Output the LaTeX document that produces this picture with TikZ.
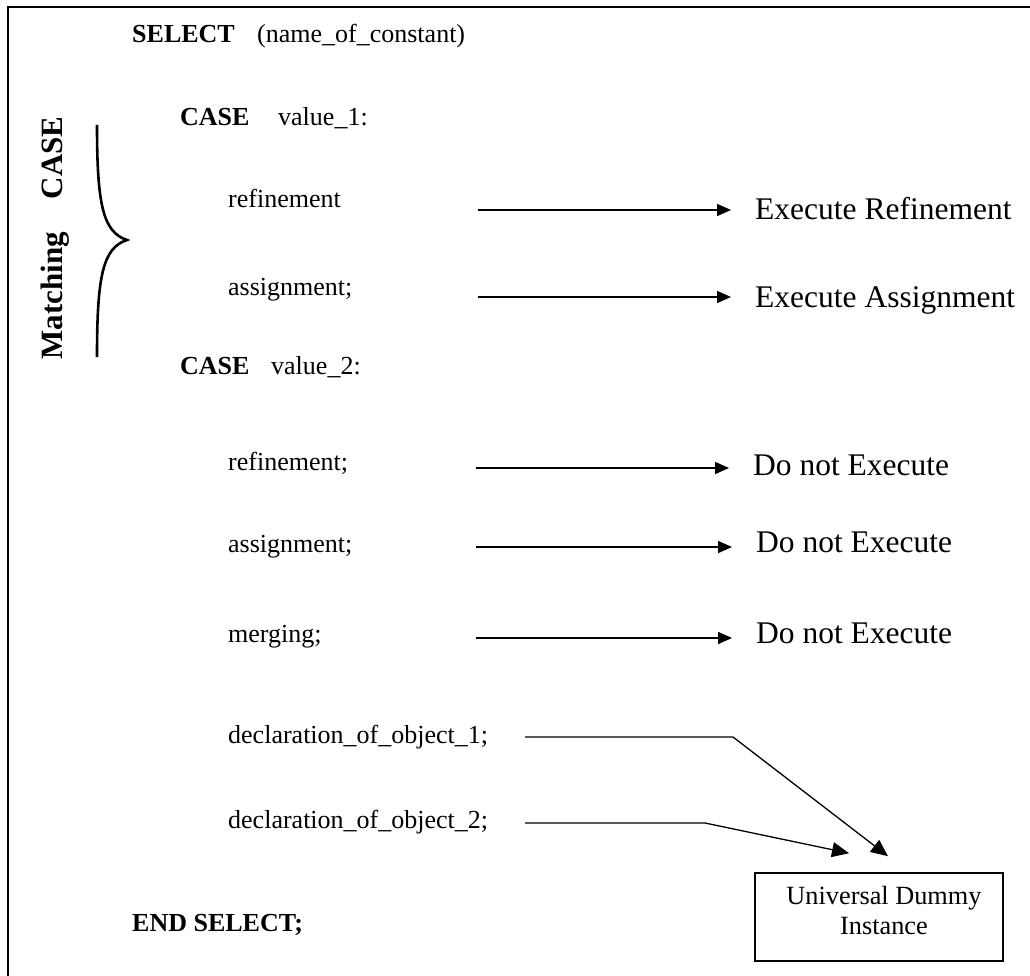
\documentclass[tikz,border=0pt]{standalone}
\usepackage{fontspec}
\setmainfont{Liberation Serif}
\usetikzlibrary{arrows.meta,calc}
\begin{document}
\begin{tikzpicture}[x=1pt,y=-1pt,
  code/.style={anchor=base west, inner sep=0pt, font=\fontsize{26}{30}\selectfont},
  kw/.style={anchor=base west, inner sep=0pt, font=\fontsize{26}{30}\selectfont\bfseries},
  result/.style={anchor=base west, inner sep=0pt, font=\fontsize{31.5}{36}\selectfont},
  flow/.style={line width=1.6pt, -{Triangle[length=14pt,width=12pt]}, shorten >=24pt},
  link/.style={line width=1.3pt, -{Triangle[length=17pt,width=15pt]}},
]
\useasboundingbox (0,0) rectangle (1030,976);
% frame
\draw[line width=1.8pt] (8,976) -- (8,7) -- (1030,7);

% code listing
\node[kw]   (sel)   at (132,43)  {SELECT};
\node[code] (selarg) at (257,43) {(name\_of\_constant)};
\node[kw]   (case1) at (180,126) {CASE};
\node[code] (val1)  at (278,126) {value\_1:};
\node[code] (ref1)  at (228,208) {refinement};
\node[code] (asg1)  at (228,295) {assignment;};
\node[kw]   (case2) at (180,374) {CASE};
\node[code] (val2)  at (271,374) {value\_2:};
\node[code] (ref2)  at (228,470) {refinement;};
\node[code] (asg2)  at (228,552) {assignment;};
\node[code] (mrg)   at (228,642) {merging;};
\node[code] (decl1) at (228,743) {declaration\_of\_object\_1;};
\node[code] (decl2) at (228,828) {declaration\_of\_object\_2;};
\node[kw]   (endsel) at (132,931) {END SELECT;};

% matching case brace and label
\draw[line width=2.6pt] (97,125) .. controls (97,205) and (103,232) .. (127,240)
                                 .. controls (103,248) and (97,275) .. (97,357);
\node[rotate=90, anchor=base, inner sep=0pt, font=\fontsize{31}{34}\selectfont\bfseries]
  (match) at (62,238) {Matching\hspace{33pt}CASE};

% outcomes
\node[result] (res1) at (755,220) {Execute Refinement};
\node[result] (res2) at (755,307) {Execute Assignment};
\node[result] (no1)  at (753,475) {Do not Execute};
\node[result] (no2)  at (756,552) {Do not Execute};
\node[result] (no3)  at (756,643) {Do not Execute};

\coordinate (f1) at (478,210);
\coordinate (f2) at (478,297);
\coordinate (f3) at (476,468);
\coordinate (f4) at (476,547);
\coordinate (f5) at (476,638);
\draw[flow] (f1) -- (f1 -| res1.west);
\draw[flow] (f2) -- (f2 -| res2.west);
\draw[flow] (f3) -- (f3 -| no1.west);
\draw[flow] (f4) -- (f4 -| no2.west);
\draw[flow] (f5) -- (f5 -| no3.west);

% universal dummy instance
\node[draw, line width=1.6pt, minimum width=248pt, minimum height=88pt] (udi) at (879,917) {};
\node[align=center, inner sep=0pt, font=\fontsize{26.3}{30}\selectfont]
  (udilabel) at ($(udi.center)+(5,-7)$) {Universal Dummy\\Instance};

\coordinate (d1) at (525,737);
\coordinate (k1) at (733,737);
\coordinate (t1) at ($(udi.north)+(9,-16)$);
\coordinate (d2) at (525,823);
\coordinate (k2) at (705,823);
\coordinate (t2) at ($(udi.north)+(-30,-19)$);
\draw[link] (d1) -- (k1) -- (t1);
\draw[link] (d2) -- (k2) -- (t2);
\end{tikzpicture}
\end{document}
